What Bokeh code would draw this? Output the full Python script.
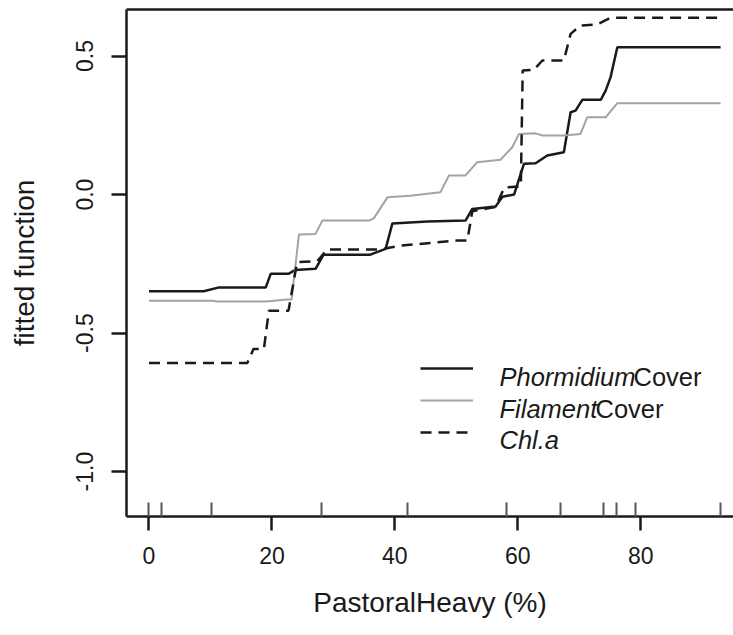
from bokeh.plotting import figure
from bokeh.models import (Range1d, LinearAxis, FixedTicker, PrintfTickFormatter,
                          Legend, LegendItem, Label)
from bokeh.embed import file_html
from bokeh.resources import INLINE

# ---------------- data ----------------
phorm_x = [0, 8.9, 11.4, 19.0, 19.8, 22.7, 23.8, 27.1, 28.4, 36.0, 38.5, 39.6, 45.3,
           51.5, 52.6, 56.4, 57.5, 59.4, 61.0, 62.9, 64.8, 67.5, 68.6, 69.4, 70.5,
           73.5, 74.3, 75.1, 76.2, 93.0]
phorm_y = [-0.349, -0.349, -0.335, -0.335, -0.286, -0.286, -0.272, -0.268, -0.217,
           -0.217, -0.196, -0.104, -0.097, -0.094, -0.052, -0.043, -0.008, 0.0,
           0.111, 0.113, 0.141, 0.153, 0.297, 0.303, 0.342, 0.342, 0.375, 0.424,
           0.532, 0.532]

fil_x = [0, 10.3, 11.0, 19.0, 22.5, 23.2, 24.4, 27.1, 28.2, 35.8, 36.6, 38.8, 42.5,
         47.4, 48.8, 51.5, 53.4, 57.2, 59.1, 60.2, 62.9, 64.0, 67.5, 70.2, 71.3,
         74.3, 76.2, 93.0]
fil_y = [-0.383, -0.383, -0.386, -0.386, -0.379, -0.379, -0.144, -0.142, -0.094,
         -0.094, -0.085, -0.010, -0.004, 0.008, 0.069, 0.069, 0.117, 0.126, 0.171,
         0.219, 0.221, 0.213, 0.213, 0.219, 0.279, 0.279, 0.330, 0.330]

chl_x = [0, 16.0, 17.0, 18.7, 19.5, 22.7, 24.1, 27.4, 29.0, 37.7, 39.5, 41.0, 50.1,
         51.8, 52.6, 56.4, 57.8, 60.5, 60.8, 62.6, 64.0, 67.5, 68.6, 70.2, 72.9,
         75.1, 93.0]
chl_y = [-0.608, -0.608, -0.557, -0.557, -0.419, -0.419, -0.244, -0.240, -0.198,
         -0.198, -0.190, -0.184, -0.166, -0.166, -0.060, -0.045, 0.025, 0.030,
         0.448, 0.450, 0.484, 0.484, 0.580, 0.610, 0.614, 0.638, 0.638]

rug_x = [0, 2.0, 10.1, 28.1, 42.1, 58.1, 67.0, 74.0, 76.0, 79.1, 93.0]

x_ticks = [0, 20, 40, 60, 80]
y_ticks = [-1.0, -0.5, 0.0, 0.5]

series_names = [("Phormidium", "Cover"), ("Filament", "Cover"), ("Chl.a", "")]

# ---------------- layout ----------------
W, H = 733, 635
FL, FR, FT, FB = 126, 733, 9, 516
X0, X1 = -3.66, 95.1
Y0, Y1 = -1.162, 0.668
FONT = "Liberation Sans"
INK = "#1a1a1a"


def px2x(px):
    return X0 + (px - FL) / (FR - FL) * (X1 - X0)


def py2y(py):
    return Y1 - (py - FT) / (FB - FT) * (Y1 - Y0)


p = figure(width=W, height=H, x_range=Range1d(X0, X1), y_range=Range1d(Y0, Y1),
           output_backend="svg", toolbar_location=None,
           x_axis_type=None, y_axis_type=None,
           min_border_left=FL, min_border_right=W - FR,
           min_border_top=FT, min_border_bottom=H - FB)
p.outline_line_color = None
p.background_fill_color = "white"
p.border_fill_color = "white"

# bottom axis with rug as inward minor ticks
xa = LinearAxis(ticker=FixedTicker(ticks=x_ticks, minor_ticks=rug_x),
                formatter=PrintfTickFormatter(format="%d"),
                axis_label="PastoralHeavy (%)")
xa.axis_line_color = INK
xa.axis_line_width = 2.5
xa.major_tick_line_color = INK
xa.major_tick_line_width = 2.5
xa.major_tick_out = 14
xa.major_tick_in = 0
xa.minor_tick_line_color = "#555555"
xa.minor_tick_line_width = 2
xa.minor_tick_in = 14
xa.minor_tick_out = 0
xa.major_label_text_font = FONT
xa.major_label_text_font_size = "23px"
xa.major_label_text_color = INK
xa.major_label_standoff = 16
xa.axis_label_text_font = FONT
xa.axis_label_text_font_size = "28px"
xa.axis_label_text_font_style = "normal"
xa.axis_label_text_color = INK
xa.axis_label_standoff = 20
p.add_layout(xa, "below")

ya = LinearAxis(ticker=FixedTicker(ticks=y_ticks),
                formatter=PrintfTickFormatter(format="%.1f"),
                axis_label="fitted function",
                major_label_orientation="vertical")
ya.axis_line_color = INK
ya.axis_line_width = 2.5
ya.major_tick_line_color = INK
ya.major_tick_line_width = 2.5
ya.major_tick_out = 15
ya.major_tick_in = 0
ya.minor_tick_line_color = None
ya.major_label_text_font = FONT
ya.major_label_text_font_size = "23px"
ya.major_label_text_color = INK
ya.major_label_standoff = 18
ya.axis_label_text_font = FONT
ya.axis_label_text_font_size = "28px"
ya.axis_label_text_font_style = "normal"
ya.axis_label_text_color = INK
ya.axis_label_standoff = 34
p.add_layout(ya, "left")

ta = LinearAxis(ticker=FixedTicker(ticks=[]))
ta.axis_line_color = INK
ta.axis_line_width = 2.5
ta.major_tick_line_color = None
ta.minor_tick_line_color = None
ta.major_label_text_font_size = "0px"
ta.major_label_standoff = 0
ta.major_tick_out = 0
ta.major_tick_in = 0
p.add_layout(ta, "above")

r1 = p.line(phorm_x, phorm_y, line_color=INK, line_width=2.5)
r2 = p.line(fil_x, fil_y, line_color="#a3a3a3", line_width=2)
r3 = p.line(chl_x, chl_y, line_color=INK, line_width=2.5, line_dash="11 7")

legend = Legend(items=[LegendItem(label=" ", renderers=[r]) for r in (r1, r2, r3)],
                location=(294, 74), orientation="vertical",
                glyph_width=53, glyph_height=20, label_height=20, label_width=1,
                spacing=12, padding=0, margin=0, label_standoff=0,
                border_line_color=None, background_fill_alpha=0,
                label_text_font_size="1px")
p.add_layout(legend)

text_rows = [376.5, 408.0, 439.5]
second_x = [633, 595, 0]
for (ital, reg), py, sx in zip(series_names, text_rows, second_x):
    p.add_layout(Label(x=px2x(499), y=py2y(py), text=ital, text_font=FONT,
                       text_font_size="25.5px", text_font_style="italic",
                       text_color=INK, text_baseline="alphabetic", text_align="left"))
    if reg:
        p.add_layout(Label(x=px2x(sx), y=py2y(py), text=reg, text_font=FONT,
                           text_font_size="25.5px", text_font_style="normal",
                           text_color=INK, text_baseline="alphabetic", text_align="left"))

open("out.html", "w").write(file_html(p, INLINE))
